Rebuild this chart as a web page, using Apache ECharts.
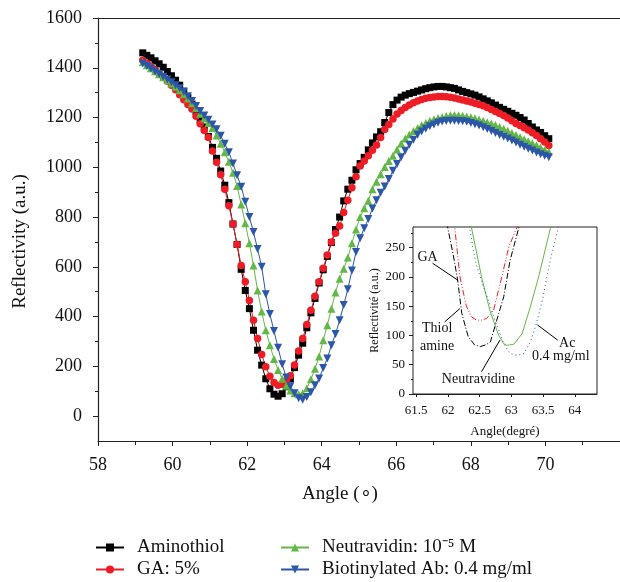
<!DOCTYPE html>
<html><head><meta charset="utf-8">
<script src="https://cdn.jsdelivr.net/npm/echarts@6/dist/echarts.min.js"></script>
<style>html,body{margin:0;padding:0;background:#fff}#c{width:620px;height:582px}</style>
</head><body><div id="c"></div>
<script>
// ---- data ----
const angles = [59.20,59.31,59.42,59.53,59.64,59.75,59.86,59.97,60.08,60.19,
60.30,60.41,60.52,60.63,60.74,60.85,60.96,61.07,61.18,61.29,
61.40,61.51,61.62,61.73,61.84,61.95,62.06,62.17,62.28,62.39,
62.50,62.61,62.72,62.83,62.94,63.05,63.16,63.27,63.38,63.49,
63.60,63.71,63.82,63.93,64.04,64.15,64.26,64.37,64.48,64.59,
64.70,64.81,64.92,65.03,65.14,65.25,65.36,65.47,65.58,65.69,
65.80,65.91,66.02,66.13,66.24,66.35,66.46,66.57,66.68,66.79,
66.90,67.01,67.12,67.23,67.34,67.45,67.56,67.67,67.78,67.89,
68.00,68.11,68.22,68.33,68.44,68.55,68.66,68.77,68.88,68.99,
69.10,69.21,69.32,69.43,69.54,69.65,69.76,69.87,69.98,70.09];
const aminothiol = [1460,1450,1440,1428,1416,1402,1385,1368,1350,1330,
1306,1280,1254,1224,1192,1162,1124,1080,1036,985,
928,858,772,690,590,505,432,345,265,205,
150,110,88,80,90,118,150,195,245,293,
355,415,473,535,588,642,698,750,800,865,
912,948,990,1015,1040,1070,1098,1122,1143,1180,
1220,1252,1270,1282,1290,1296,1301,1306,1311,1316,
1320,1323,1325,1325,1323,1320,1317,1311,1305,1300,
1295,1290,1283,1275,1267,1259,1250,1241,1233,1225,
1217,1209,1200,1190,1176,1162,1150,1140,1127,1115];
const ga5 = [1430,1418,1405,1392,1378,1362,1347,1330,1312,1292,
1271,1252,1234,1205,1175,1148,1120,1065,1020,970,
912,845,772,690,605,540,465,385,312,248,
198,160,135,124,128,142,162,205,262,312,
368,425,482,540,594,648,700,735,764,818,
868,918,962,1005,1025,1046,1068,1090,1120,1152,
1172,1194,1214,1228,1240,1250,1259,1266,1272,1277,
1280,1283,1285,1285,1284,1281,1278,1274,1270,1266,
1262,1257,1252,1247,1240,1232,1224,1216,1208,1198,
1187,1176,1168,1159,1150,1139,1128,1115,1102,1088];
const neutravidin = [1422,1410,1398,1386,1374,1362,1350,1337,1324,1310,
1294,1276,1257,1237,1215,1196,1178,1158,1128,1095,
1060,1022,978,925,850,775,695,605,505,420,
345,285,230,185,150,122,103,92,88,92,
112,148,190,240,305,365,432,497,552,592,
637,695,750,800,835,866,912,942,972,1001,
1025,1046,1072,1096,1116,1132,1146,1158,1169,1178,
1187,1193,1198,1202,1206,1209,1210,1209,1207,1204,
1201,1197,1192,1187,1181,1176,1170,1162,1155,1147,
1138,1130,1121,1113,1105,1097,1089,1080,1070,1062];
const biotinAb = [1417,1407,1396,1385,1375,1364,1353,1342,1330,1318,
1304,1286,1266,1246,1226,1208,1191,1172,1153,1127,
1095,1060,1015,968,922,862,800,740,672,600,
490,410,342,275,208,155,120,92,72,66,
77,96,124,151,193,232,285,330,385,447,
510,585,660,715,755,792,834,868,898,923,
953,986,1013,1040,1066,1091,1111,1131,1144,1155,
1165,1172,1179,1184,1186,1187,1187,1186,1185,1183,
1178,1173,1168,1161,1154,1146,1138,1130,1123,1116,
1108,1100,1091,1083,1075,1067,1059,1052,1046,1040];

const insetThiol = [[61.95,330],[62.0,282],[62.08,240],[62.15,197],[62.22,137],[62.32,98],[62.42,84],[62.51,81],[62.6,84],[62.67,89],[62.77,126],[62.88,166],[62.98,228],[63.12,285],[63.18,320]];
const insetGA = [[62.08,320],[62.11,282],[62.19,200],[62.29,150],[62.37,132],[62.45,126],[62.53,126],[62.61,129],[62.72,143],[62.85,200],[62.96,251],[63.09,285],[63.13,310]];
const insetNeutr = [[62.33,320],[62.37,285],[62.53,200],[62.66,143],[62.80,100],[62.88,86],[62.93,83],[63.04,85],[63.17,103],[63.30,149],[63.43,200],[63.62,285],[63.66,310]];
const insetAc = [[62.33,300],[62.35,279],[62.40,245],[62.45,220],[62.56,183],[62.64,160],[62.72,132],[62.80,109],[62.88,86],[62.98,69],[63.09,66],[63.20,69],[63.30,89],[63.38,115],[63.49,160],[63.57,206],[63.65,245],[63.73,279],[63.75,300]];

const seriesNames = ['Aminothiol','GA: 5%','Neutravidin: 10\u207B\u2075 M','Biotinylated Ab: 0.4 mg/ml'];
const yTickLabels = [0,200,400,600,800,1000,1200,1400,1600];
const yMinorTicks = [100,300,500,700,900,1100,1300,1500];
const insetXTicks = [61.5,62,62.5,63,63.5,64];
const insetYTicks = [0,50,100,150,200,250];
const insetYMinor = [25,75,125,175,225,275];

// ---- chart ----
const FF = 'Liberation Serif';
const AX = '#222';
const pair = arr => angles.map((a,i)=>[a, arr[i]]);
const chart = echarts.init(document.getElementById('c'));
const baseTxt = {fontFamily:FF, color:'#111'};

const arrows = [
  [[61.76,223],[62.16,194]],
  [[61.95,123],[62.19,146]],
  [[62.53,38],[62.82,92]],
  [[63.73,92],[63.41,118]]
];
const notes = [
  {t:'GA', c:[61.68,234]},
  {t:'Thiol\namine', c:[61.83,96]},
  {t:'Neutravidine', c:[62.48,25]},
  {t:'Ac', c:[63.88,86]},
  {t:'0.4 mg/ml', c:[63.78,65]}
];
const legendPos = [[95,538],[95,560],[280,538],[280,560]];

const option = {
  animation:false,
  backgroundColor:'#fff',
  grid:[
    {left:98, top:18, width:524, height:423},
    {left:413, top:227, width:184, height:167, show:true, backgroundColor:'#fff', borderColor:AX, borderWidth:1, z:3}
  ],
  legend:seriesNames.map((n,i)=>({data:[n], left:legendPos[i][0], top:legendPos[i][1],
     itemWidth:28, itemHeight:10, padding:0,
     textStyle:Object.assign({fontSize:19, padding:[0,0,0,8]}, baseTxt)})),
  xAxis:[
    {gridIndex:0, type:'value', min:58, max:72, interval:2,
     axisLine:{onZero:false, lineStyle:{color:AX, width:1.2}},
     axisTick:{length:5, lineStyle:{color:AX}},
     minorTick:{show:true, splitNumber:2, length:4, lineStyle:{color:AX}},
     splitLine:{show:false},
     axisLabel:Object.assign({fontSize:18, margin:15, showMaxLabel:false}, baseTxt),
     name:'Angle (\u2218)', nameLocation:'middle', nameGap:44,
     nameTextStyle:Object.assign({fontSize:19, padding:[0,38,0,0]}, baseTxt)},
    {gridIndex:0, type:'value', position:'top', min:58, max:72,
     axisLine:{show:true, onZero:false, lineStyle:{color:AX, width:1.2}}, axisTick:{show:false}, axisLabel:{show:false}, splitLine:{show:false}},
    {gridIndex:1, type:'value', min:61.45, max:64.35, position:'bottom',
     axisLine:{onZero:false, lineStyle:{color:AX}},
     axisTick:{customValues:insetXTicks, length:3, lineStyle:{color:AX}},
     axisLabel:Object.assign({customValues:insetXTicks, fontSize:13, margin:10}, baseTxt),
     splitLine:{show:false},
     name:'Angle(degr\u00e9)', nameLocation:'middle', nameGap:31,
     nameTextStyle:Object.assign({fontSize:13}, baseTxt)}
  ],
  yAxis:[
    {gridIndex:0, type:'value', position:'left', min:-100, max:1600, interval:100,
     axisLine:{show:true, onZero:false, lineStyle:{color:AX, width:1.2}},
     axisTick:{customValues:yTickLabels, length:5, lineStyle:{color:AX}},
     axisLabel:Object.assign({customValues:yTickLabels, fontSize:18, margin:16, formatter:v=>String(v)}, baseTxt),
     splitLine:{show:false},
     name:'Reflectivity (a.u.)', nameLocation:'middle', nameGap:68,
     nameTextStyle:Object.assign({fontSize:19, padding:[0,24,0,0]}, baseTxt)},
    {gridIndex:0, type:'value', position:'left', min:-100, max:1600, interval:100,
     axisLine:{show:false, onZero:false},
     axisTick:{customValues:yMinorTicks, length:3, lineStyle:{color:AX}},
     axisLabel:{show:false}, splitLine:{show:false}},
    {gridIndex:1, type:'value', position:'left', min:0, max:285, interval:50,
     axisLine:{show:true, onZero:false, lineStyle:{color:AX}},
     axisTick:{customValues:insetYTicks, length:4, lineStyle:{color:AX}},
     axisLabel:Object.assign({customValues:insetYTicks, fontSize:13, margin:8, formatter:v=>String(v)}, baseTxt),
     splitLine:{show:false},
     name:'Reflectivit\u00e9 (a.u.)', nameLocation:'middle', nameGap:32,
     nameTextStyle:Object.assign({fontSize:12}, baseTxt)},
    {gridIndex:1, type:'value', position:'left', min:0, max:285,
     axisLine:{show:false, onZero:false},
     axisTick:{customValues:insetYMinor, length:2, lineStyle:{color:AX}},
     axisLabel:{show:false}, splitLine:{show:false}}
  ],
  series:[
    {name:seriesNames[0], type:'line', xAxisIndex:0, yAxisIndex:0, data:pair(aminothiol),
     symbol:'rect', symbolSize:7, color:'#000', lineStyle:{width:1}},
    {name:seriesNames[1], type:'line', xAxisIndex:0, yAxisIndex:0, data:pair(ga5),
     symbol:'circle', symbolSize:7.5, color:'#ee1d25', itemStyle:{borderWidth:0}, lineStyle:{width:1}},
    {name:seriesNames[2], type:'line', xAxisIndex:0, yAxisIndex:0, data:pair(neutravidin),
     symbol:'triangle', symbolSize:8, color:'#62b746', lineStyle:{width:1}},
    {name:seriesNames[3], type:'line', xAxisIndex:0, yAxisIndex:0, data:pair(biotinAb),
     symbol:'triangle', symbolRotate:180, symbolSize:8, color:'#2c56a8', lineStyle:{width:1}},
    {name:'inset-thiol', type:'line', xAxisIndex:2, yAxisIndex:2, data:insetThiol, showSymbol:false, z:5,
     lineStyle:{color:'#000', width:1, type:[6,2,1,2]},
     markLine:{silent:true, symbol:['none','arrow'], symbolSize:[0,7], label:{show:false},
       lineStyle:{color:'#000', type:'solid', width:1},
       data:arrows.map(a=>[{coord:a[0]},{coord:a[1]}])},
     markPoint:{silent:true, symbol:'circle', symbolSize:1, itemStyle:{color:'rgba(0,0,0,0)'},
       label:{show:true, position:'inside', formatter:p=>p.name, fontSize:14, lineHeight:18, fontFamily:FF, color:'#111'},
       data:notes.map(n=>({name:n.t, coord:n.c}))}},
    {name:'inset-ga', type:'line', xAxisIndex:2, yAxisIndex:2, data:insetGA, showSymbol:false, z:5,
     lineStyle:{color:'#ee1d25', width:1, type:[6,2,1,2,1,2]}},
    {name:'inset-neutr', type:'line', xAxisIndex:2, yAxisIndex:2, data:insetNeutr, showSymbol:false, z:5,
     lineStyle:{color:'#62b746', width:1}},
    {name:'inset-ac', type:'line', xAxisIndex:2, yAxisIndex:2, data:insetAc, showSymbol:false, z:5,
     lineStyle:{color:'#2c56a8', width:1, type:[1,3]}}
  ]
};
chart.setOption(option);
</script></body></html>
